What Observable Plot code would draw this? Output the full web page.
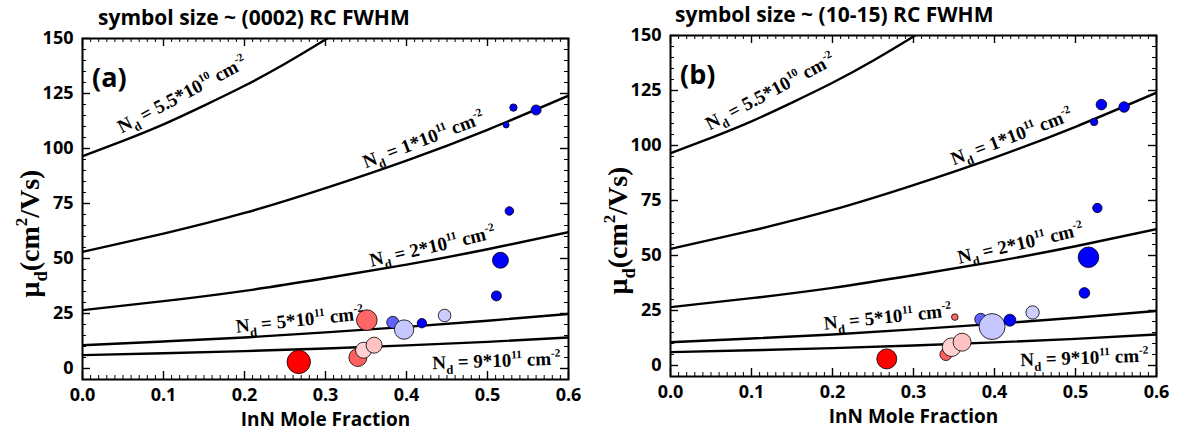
<!DOCTYPE html>
<html><head><meta charset="utf-8">
<script src="https://cdn.jsdelivr.net/npm/d3@7"></script>
<script src="https://cdn.jsdelivr.net/npm/@observablehq/plot@0.6"></script>
<style>
body{margin:0;background:#fff;width:1177px;height:439px;overflow:hidden;position:relative;font-family:'Open Sans',sans-serif}
.panel{position:absolute;width:588px;height:442px}
.title{position:absolute;z-index:2;font-weight:700;font-size:21px;line-height:21px;white-space:nowrap;color:#000;font-family:'Open Sans',sans-serif}
.panel svg{position:absolute;top:25px;left:0;z-index:1}
</style></head><body>
<script>
// ---- data ----
const innFraction = [0.267, 0.340, 0.347, 0.360, 0.351, 0.383, 0.397, 0.419, 0.447, 0.511, 0.516, 0.527, 0.523, 0.532, 0.560];
const mobility    = [3.0, 5.0, 8.3, 10.6, 22.0, 21.0, 17.7, 20.6, 24.1, 33.0, 49.2, 71.6, 110.7, 118.6, 117.5];
const colorValue  = [-1, -0.62, -0.18, -0.24, -0.6, 0.62, 0.22, 1, 0.2, 1, 1, 1, 1, 1, 1];
const fwhm0002    = [1170, 900, 800, 800, 1030, 600, 970, 470, 630, 500, 800, 430, 300, 370, 500];
const fwhm1015    = [1000, 600, 930, 900, 330, 600, 1300, 600, 670, 530, 1030, 470, 370, 530, 530];

const curveX      = [0, 0.1, 0.2, 0.3, 0.4, 0.5, 0.6];
const curveX55    = [0, 0.05, 0.1, 0.15, 0.2, 0.25, 0.3, 0.35];
const mu55e10     = [96.5, 103.5, 111, 119.5, 128.5, 138.5, 149.5, 161];
const mu1e11      = [53, 61.3, 70.7, 82, 94.5, 108.5, 124];
const mu2e11      = [26.5, 30.6, 35.3, 41, 47.2, 54.2, 62];
const mu5e11      = [10.6, 12.3, 14.1, 16.4, 18.9, 21.7, 24.8];
const mu9e11      = [6.1, 6.9, 7.9, 9.1, 10.5, 12.1, 14.1];

const labelText   = ["N_{d} = 5.5*10^{10} cm^{-2}", "N_{d} = 1*10^{11} cm^{-2}", "N_{d} = 2*10^{11} cm^{-2}", "N_{d} = 5*10^{11} cm^{-2}", "N_{d} = 9*10^{11} cm^{-2}"];
const labelX      = [0.123, 0.421, 0.432, 0.268, 0.511];
const labelY      = [124.5, 104, 55.5, 22, 3.5];
const labelAngle  = [-28, -21, -13, -6, -2];

const xMajor = [0, 0.1, 0.2, 0.3, 0.4, 0.5, 0.6];
const yMajor = [0, 25, 50, 75, 100, 125, 150];
const xMinor = d3.range(0, 0.6001, 0.01);
const yMinor = d3.range(-5, 150.001, 5);

// ---- tables ----
const curves = [
  ...curveX55.map((x, i) => ({x, y: mu55e10[i], nd: "5.5e10"})),
  ...curveX.map((x, i) => ({x, y: mu1e11[i], nd: "1e11"})),
  ...curveX.map((x, i) => ({x, y: mu2e11[i], nd: "2e11"})),
  ...curveX.map((x, i) => ({x, y: mu5e11[i], nd: "5e11"})),
  ...curveX.map((x, i) => ({x, y: mu9e11[i], nd: "9e11"}))
];
const labels = labelText.map((t, i) => ({t, x: labelX[i], y: labelY[i], a: labelAngle[i]}));

const W = 588, H = 414, ML = 82, MR = 20, MT = 13, MB = 60;
const innerW = W - ML - MR, innerH = H - MT - MB;
const serif = "'Liberation Serif', 'Times New Roman', serif";
const sans = "'Open Sans', sans-serif";

function richify(svg) {
  svg.querySelectorAll("text").forEach(t => {
    const s = t.textContent;
    if (!/[_^]\{/.test(s)) return;
    const fs = parseFloat(getComputedStyle(t).fontSize);
    t.textContent = "";
    let shift = 0;
    s.split(/([_^]\{[^}]*\})/).filter(p => p).forEach(p => {
      const ts = document.createElementNS("http://www.w3.org/2000/svg", "tspan");
      let target = 0, size = null, str = p;
      if (p.startsWith("_{")) { target = 0.28 * fs; size = 0.66 * fs; str = p.slice(2, -1); }
      else if (p.startsWith("^{")) { target = -0.42 * fs; size = 0.6 * fs; str = p.slice(2, -1); }
      if (size) ts.setAttribute("font-size", size);
      const d = target - shift;
      if (d) ts.setAttribute("dy", d);
      shift = target;
      ts.textContent = str;
      t.appendChild(ts);
    });
  });
}

function panel(sizes, tag, titleText, left, top, titleLeft) {
  const div = document.createElement("div");
  div.className = "panel";
  div.style.left = left + "px";
  div.style.top = top + "px";
  const title = document.createElement("div");
  title.className = "title";
  title.textContent = titleText;
  title.style.left = titleLeft + "px";
  title.style.top = "7px";
  div.appendChild(title);
  const points = innFraction.map((x, i) => ({x, y: mobility[i], c: colorValue[i], s: sizes[i]}));
  const svg = Plot.plot({
    width: W, height: H, marginLeft: ML, marginRight: MR, marginTop: MT, marginBottom: MB,
    style: {fontFamily: sans, fontSize: "18px", fontWeight: "bold", background: "transparent", color: "black", overflow: "visible"},
    x: {domain: [0, 0.6]},
    y: {domain: [-5, 150]},
    r: {type: "linear", domain: [0, 1000], range: [0, 10]},
    color: {type: "linear", domain: [-1, 1], interpolate: t => t < 0.5 ? d3.interpolateRgb("#ff0000", "#ffffff")(t * 2) : d3.interpolateRgb("#ffffff", "#0000ff")((t - 0.5) * 2)},
    marks: [
      Plot.line(curves, {x: "x", y: "y", z: "nd", stroke: "black", strokeWidth: 2.4, curve: "natural", clip: true}),
      Plot.dot(points, {x: "x", y: "y", r: "s", fill: "c", stroke: "black", strokeWidth: 0.8, sort: null}),
      Plot.text(labels, {x: "x", y: "y", text: "t", rotate: "a", fontFamily: serif, fontWeight: "bold", fontSize: 19, fill: "black"}),
      // ticks (inward)
      Plot.tickX(xMinor, {x: d => d, insetTop: innerH - 4, stroke: "black", strokeWidth: 1}),
      Plot.tickX(xMinor, {x: d => d, insetBottom: innerH - 4, stroke: "black", strokeWidth: 1}),
      Plot.tickX(xMajor, {x: d => d, insetTop: innerH - 8, stroke: "black", strokeWidth: 1.4}),
      Plot.tickX(xMajor, {x: d => d, insetBottom: innerH - 8, stroke: "black", strokeWidth: 1.4}),
      Plot.tickY(yMinor, {y: d => d, insetRight: innerW - 4, stroke: "black", strokeWidth: 1}),
      Plot.tickY(yMinor, {y: d => d, insetLeft: innerW - 4, stroke: "black", strokeWidth: 1}),
      Plot.tickY(yMajor, {y: d => d, insetRight: innerW - 8, stroke: "black", strokeWidth: 1.4}),
      Plot.tickY(yMajor, {y: d => d, insetLeft: innerW - 8, stroke: "black", strokeWidth: 1.4}),
      Plot.frame({stroke: "black", strokeWidth: 2}),
      Plot.axisX({ticks: xMajor, tickSize: 0, tickPadding: 9, tickFormat: d3.format(".1f"), label: null, fontSize: 18}),
      Plot.axisY({ticks: yMajor, tickSize: 0, tickPadding: 9, label: null, fontSize: 18}),
      Plot.text(["x"], {frameAnchor: "bottom", dy: 46, text: () => "InN Mole Fraction", fontSize: 19, fontWeight: "bold", fontFamily: sans}),
      Plot.text([tag], {frameAnchor: "top-left", dx: 9.5, dy: 29, text: d => d, textAnchor: "start", fontSize: 27, fontWeight: "bold", fontFamily: sans}),
      Plot.text(["y"], {frameAnchor: "left", dx: -50, dy: 25, rotate: -90, text: () => "\u03bc_{d}(cm^{2}/Vs)", fontFamily: serif, fontWeight: "bold", fontSize: 28})
    ]
  });
  div.appendChild(svg);
  document.body.appendChild(div);
  richify(svg);
  // keep the y label centred where the reference has it
  svg.querySelectorAll("text").forEach(t => {
    if (!t.textContent.includes("Vs")) return;
    const r = t.getBoundingClientRect(), d = div.getBoundingClientRect();
    const ddx = 31.5 - (r.left + r.width / 2 - d.left);
    const ddy = 233.5 - (r.top + r.height / 2 - d.top);
    t.setAttribute("transform", `translate(${ddx},${ddy}) ` + (t.getAttribute("transform") || ""));
  });
}

panel(fwhm0002, "(a)", "symbol size ~ (0002) RC FWHM", 0, 0, 98);
panel(fwhm1015, "(b)", "symbol size ~ (10-15) RC FWHM", 588, -3, 87);
</script>
</body></html>
